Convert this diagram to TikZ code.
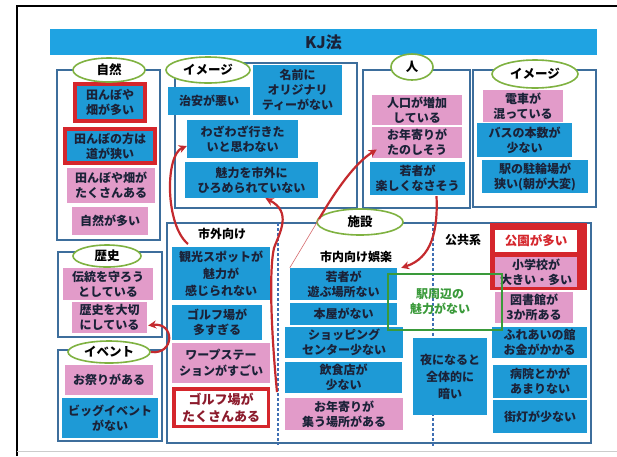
\documentclass[tikz,border=0pt]{standalone}
\usepackage{fontspec}
\setmainfont{Noto Sans CJK JP}
\usetikzlibrary{shapes.geometric,arrows.meta,calc}
\definecolor{kjblue}{HTML}{1E9AD6}
\definecolor{titleblue}{HTML}{1FA3E2}
\definecolor{kjpink}{HTML}{E29BC9}
\definecolor{kjred}{HTML}{D5262C}
\definecolor{arrred}{HTML}{C42A2E}
\definecolor{frm}{HTML}{3D6E9C}
\definecolor{kjgreen}{HTML}{7FB241}
\definecolor{txt}{HTML}{1B2238}
\definecolor{grn}{HTML}{3A9A3A}
\definecolor{dred}{HTML}{8C1B2C}
\definecolor{dashcol}{HTML}{3F6FB3}
\tikzset{
 base/.style={inner sep=0pt, align=center, text=txt, font=\bfseries\fontsize{12}{15}\selectfont},
 bb/.style={base, fill=kjblue},
 pb/.style={base, fill=kjpink},
 rbord/.style={draw=kjred, line width=4pt},
 grp/.style={draw=frm, line width=1.3pt},
 dsh/.style={draw=dashcol, line width=1.3pt, dash pattern=on 3pt off 2pt},
 lab/.style={ellipse, draw=kjgreen, line width=1.6pt, fill=white, inner sep=0pt, text=black, font=\bfseries\fontsize{12.5}{14}\selectfont},
 plain/.style={inner sep=0pt, text=black, font=\bfseries\fontsize{12}{14}\selectfont},
 arr/.style={draw=arrred, line width=2.2pt, -{Stealth[length=8pt,width=8pt]}},
 thinred/.style={draw=arrred!70, line width=0.6pt},
}
\begin{document}
\begin{tikzpicture}[x=1pt,y=-1pt]
\useasboundingbox (0,0) rectangle (617,456);
\fill[white] (0,0) rectangle (617,456);
% page border
\draw[black, line width=1.6pt] (17,456) -- (17,6) -- (617,6);
\draw[black!20, line width=0.8pt] (17,451) -- (617,451);
% title
\node[fill=titleblue, minimum width=547, minimum height=26, inner sep=0pt, text=txt, font=\bfseries\fontsize{16}{18}\selectfont] (title) at (323.5,42) {KJ法};
% group frames
\draw[grp] (57,70) rectangle (160,240);
\draw[grp] (175,63) rectangle (357,208);
\draw[grp] (363,70) rectangle (470,208);
\draw[grp] (473,70) rectangle (596,207);
\draw[grp] (58,252) rectangle (162,337);
\draw[grp] (58,350) rectangle (162,441);
\draw[grp] (167,223) rectangle (591,443);
\draw[dsh] (278,223) -- (278,445);
\draw[dsh] (433,223) -- (433,447);
% 自然
\node[bb, rbord, minimum width=70, minimum height=37] (a1) at (110,102.5) {田んぼや\\畑が多い};
\node[bb, rbord, minimum width=90, minimum height=34] (a2) at (110,146) {田んぼの方は\\道が狭い};
\node[pb, minimum width=88, minimum height=35] (a3) at (111,185.5) {田んぼや畑が\\たくさんある};
\node[pb, minimum width=76, minimum height=28] (a4) at (110,221) {自然が多い};
% イメージ (left)
\node[bb, minimum width=82, minimum height=28] (b1) at (209,101) {治安が悪い};
\node[bb, minimum width=89, minimum height=50] (b2) at (297.5,90) {名前に\\オリジナリ\\ティーがない};
\node[bb, minimum width=111, minimum height=38] (b3) at (242.5,139) {わざわざ行きた\\いと思わない};
\node[bb, minimum width=133, minimum height=36] (b4) at (251.5,180) {魅力を市外に\\ひろめられていない};
% 人
\node[pb, minimum width=90, minimum height=30] (c1) at (417,110) {人口が増加\\している};
\node[pb, minimum width=90, minimum height=31] (c2) at (417,142.5) {お年寄りが\\たのしそう};
\node[bb, minimum width=95, minimum height=33] (c3) at (417.5,178.5) {若者が\\楽しくなさそう};
% イメージ (right)
\node[pb, minimum width=80, minimum height=32] (d1) at (523,106) {電車が\\混っている};
\node[bb, minimum width=95, minimum height=34] (d2) at (524.5,140) {バスの本数が\\少ない};
\node[bb, minimum width=106, minimum height=33] (d3) at (535,176.5) {駅の駐輪場が\\狭い(朝が大変)};
% 歴史
\node[pb, minimum width=90, minimum height=32] (e1) at (108,284) {伝統を守ろう\\としている};
\node[pb, minimum width=75, minimum height=31] (e2) at (109.5,317.5) {歴史を大切\\にしている};
% イベント
\node[pb, minimum width=88, minimum height=30] (f1) at (109,380) {お祭りがある};
\node[bb, minimum width=96, minimum height=40] (f2) at (110,418) {ビッグイベント\\がない};
% 市外向け
\node[plain] (t1) at (222,234) {市外向け};
\node[bb, minimum width=98, minimum height=53, font=\bfseries\fontsize{12}{17}\selectfont] (g1) at (221,273.5) {観光スポットが\\魅力が\\感じられない};
\node[bb, minimum width=90, minimum height=35] (g2) at (217,322.5) {ゴルフ場が\\多すぎる};
\node[pb, minimum width=98, minimum height=40, font=\bfseries\fontsize{12}{16}\selectfont] (g3) at (221,363) {ワープステー\\ションがすごい};
\node[base, fill=white, draw=kjred, line width=3.5pt, minimum width=94.5, minimum height=37.5, text=dred, font=\bfseries\fontsize{13}{17}\selectfont] (g4) at (221,407.5) {ゴルフ場が\\たくさんある};
% 市内向け娯楽
\node[plain] (t2) at (356,257) {市内向け娯楽};
\node[bb, minimum width=107, minimum height=32] (h1) at (343.5,284) {若者が\\遊ぶ場所ない};
\node[bb, minimum width=107, minimum height=22] (h2) at (343.5,314) {本屋がない};
\node[bb, minimum width=118, minimum height=31] (h3) at (344,342.5) {ショッピング\\センター少ない};
\node[bb, minimum width=117, minimum height=31] (h4) at (343.5,377.5) {飲食店が\\少ない};
\node[pb, minimum width=118, minimum height=32] (h5) at (344,414) {お年寄りが\\集う場所がある};
% 公共系
\node[plain] (t3) at (463,240) {公共系};
\fill[kjred] (490,223) rectangle (587,290);
\node[base, fill=white, minimum width=82, minimum height=22, text=kjred, font=\bfseries\fontsize{12.5}{15}\selectfont] (i1) at (536,241) {公園が多い};
\node[pb, minimum width=82, minimum height=30] (i2) at (536,272) {小学校が\\大きい・多い};
\node[pb, minimum width=78, minimum height=31] (i3) at (534,307.5) {図書館が\\3か所ある};
\node[bb, minimum width=95, minimum height=31] (i4) at (539.5,342.5) {ふれあいの館\\お金がかかる};
\node[bb, minimum width=94, minimum height=33] (i5) at (540,381.5) {病院とかが\\あまりない};
\node[bb, minimum width=94, minimum height=33] (i6) at (540,416.5) {街灯が少ない};
\node[bb, minimum width=74, minimum height=77, font=\bfseries\fontsize{12}{17}\selectfont] (j1) at (450,376.5) {夜になると\\全体的に\\暗い};
% 駅周辺
\draw[draw=grn, line width=1.5pt] (388,274) rectangle (502,330);
\node[base, text=grn] (k1) at (440,302) {駅周辺の\\魅力がない};
% labels
\node[lab, minimum width=72, minimum height=24] (l1) at (109,70) {自然};
\node[lab, minimum width=84, minimum height=26] (l2) at (208,70) {イメージ};
\node[lab, minimum width=42, minimum height=26] (l3) at (412,67) {人};
\node[lab, minimum width=86, minimum height=28] (l4) at (535,74) {イメージ};
\node[lab, minimum width=68, minimum height=22] (l5) at (107,256) {歴史};
\node[lab, minimum width=82, minimum height=22] (l6) at (109,352) {イベント};
\node[lab, minimum width=86, minimum height=26] (l7) at (360,222) {施設};
% arrows
\coordinate (r1s) at (188,244);
\draw[arr] (r1s) .. controls (165,225) and (165,155) .. ($(b3.west)+(0,7)$);
\coordinate (r2s) at (277,392);
\draw[arr] (r2s) .. controls (271,330) and (269,270) .. (274,248) .. controls (280,232) and (292,212) .. ($(b4.south)+(14,0)$);
\draw[arr] (l6.east) .. controls (175,355) and (175,322) .. ($(e2.east)+(1,8)$);
\coordinate (r4m) at (319,219);
\draw[thinred] (h1.north west) -- (r4m);
\draw[arr] (r4m) .. controls (336,190) and (355,163) .. ($(c2.west)+(5,7)$);
\draw[arr] ($(c3.south)+(19,1)$) .. controls (438,230) and (432,258) .. ($(h1.north east)+(4,0)$);
\end{tikzpicture}
\end{document}
